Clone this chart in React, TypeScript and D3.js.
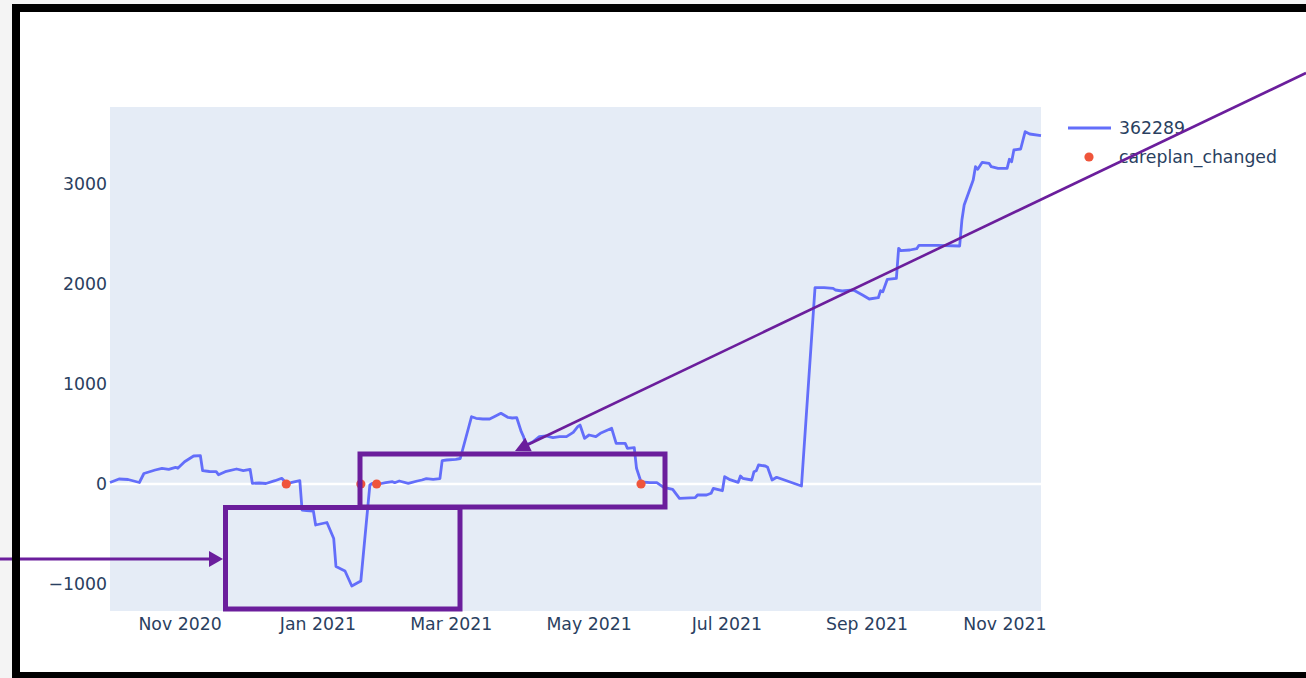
import * as d3 from "d3";

// series "362289"
const lineDates = [
  "2020-10-01", "2020-10-05", "2020-10-09", "2020-10-14", "2020-10-16", "2020-10-21",
  "2020-10-24", "2020-10-27", "2020-10-30", "2020-10-31", "2020-11-03", "2020-11-07",
  "2020-11-10", "2020-11-11", "2020-11-14", "2020-11-17", "2020-11-18", "2020-11-21",
  "2020-11-26", "2020-11-29", "2020-12-02", "2020-12-03", "2020-12-06", "2020-12-09",
  "2020-12-13", "2020-12-16", "2020-12-18", "2020-12-20", "2020-12-24", "2020-12-25",
  "2020-12-27", "2020-12-30", "2020-12-31", "2021-01-03", "2021-01-05", "2021-01-08",
  "2021-01-09", "2021-01-13", "2021-01-16", "2021-01-20", "2021-01-24", "2021-01-25",
  "2021-01-28", "2021-01-31", "2021-02-03", "2021-02-04", "2021-02-06", "2021-02-10",
  "2021-02-14", "2021-02-16", "2021-02-18", "2021-02-21", "2021-02-24", "2021-02-25",
  "2021-02-27", "2021-03-03", "2021-03-05", "2021-03-09", "2021-03-10", "2021-03-12",
  "2021-03-15", "2021-03-18", "2021-03-20", "2021-03-23", "2021-03-26", "2021-03-28",
  "2021-03-30", "2021-04-01", "2021-04-02", "2021-04-03", "2021-04-06", "2021-04-09",
  "2021-04-12", "2021-04-15", "2021-04-18", "2021-04-21", "2021-04-24", "2021-04-26",
  "2021-04-27", "2021-04-29", "2021-05-01", "2021-05-04", "2021-05-06", "2021-05-11",
  "2021-05-13", "2021-05-17", "2021-05-18", "2021-05-21", "2021-05-22", "2021-05-24",
  "2021-05-28", "2021-05-31", "2021-06-03", "2021-06-07", "2021-06-10", "2021-06-17",
  "2021-06-18", "2021-06-22", "2021-06-24", "2021-06-25", "2021-06-29", "2021-06-30",
  "2021-07-02", "2021-07-06", "2021-07-07", "2021-07-08", "2021-07-12", "2021-07-13",
  "2021-07-14", "2021-07-15", "2021-07-18", "2021-07-19", "2021-07-21", "2021-07-23",
  "2021-08-03", "2021-08-09", "2021-08-13", "2021-08-17", "2021-08-18", "2021-08-21",
  "2021-08-26", "2021-08-30", "2021-09-02", "2021-09-06", "2021-09-07", "2021-09-08",
  "2021-09-10", "2021-09-14", "2021-09-15", "2021-09-16", "2021-09-20", "2021-09-23",
  "2021-09-24", "2021-10-02", "2021-10-12", "2021-10-13", "2021-10-14", "2021-10-18",
  "2021-10-19", "2021-10-20", "2021-10-22", "2021-10-25", "2021-10-26", "2021-10-29",
  "2021-11-02", "2021-11-03", "2021-11-04", "2021-11-05", "2021-11-08", "2021-11-10",
  "2021-11-12", "2021-11-17",
];

const lineValues = [
  15, 50, 45, 15, 105, 140,
  157, 147, 167, 157, 223, 280,
  283, 133, 125, 123, 93, 123,
  150, 133, 147, 7, 10, 5,
  33, 57, 10, 13, 33, -260,
  -265, -270, -410, -395, -385, -545,
  -825, -870, -1020, -970, -10, 5,
  0, 13, 23, 13, 30, 7,
  30, 40, 53, 47, 53, 233,
  240, 247, 255, 590, 673, 657,
  650, 650, 673, 707, 667, 660,
  663, 523, 473, 390, 420, 473,
  480, 463, 473, 473, 517, 573,
  590, 457, 490, 473, 507, 557,
  407, 407, 357, 363, 157, 20,
  13, 13, -33, -53, -143, -137,
  -110, -110, -93, -43, -67, 73,
  47, 17, 80, 57, 40, 123,
  133, 190, 180, 167, 40, 67,
  -20, 1963, 1963, 1957, 1940, 1930,
  1940, 1890, 1850, 1863, 1933, 1923,
  2047, 2057, 2357, 2333, 2340, 2353,
  2387, 2387, 2380, 2640, 2790, 3040,
  3173, 3147, 3217, 3207, 3173, 3157,
  3157, 3247, 3223, 3340, 3350, 3523,
  3500, 3483,
];

// series "careplan_changed"
const careplanDates = ["2020-12-18", "2021-01-20", "2021-01-27", "2021-05-24"];
const careplanValues = [0, 0, 0, 0];

const xTickDates = ["2020-11-01", "2021-01-01", "2021-03-01", "2021-05-01", "2021-07-01", "2021-09-01", "2021-11-01"];
const yTicks = [-1000, 0, 1000, 2000, 3000];
const legendLabels = ["362289", "careplan_changed"];

const parse = d3.timeParse("%Y-%m-%d");

const W = 1306;
const H = 678;
const plot = { left: 110, right: 1041, top: 107, bottom: 611 };
const FONT = "'DejaVu Sans', Verdana, sans-serif";
const FS = 17.3;
const TEXT = "#2a3f5f";
const PURPLE = "#6b1e9c";

export default function App() {
  const x = d3
    .scaleTime()
    .domain([parse("2020-10-01") as Date, parse("2021-11-17") as Date])
    .range([plot.left, plot.right]);
  const y = d3.scaleLinear().domain([-1270, 3770]).range([plot.bottom, plot.top]);

  const points = lineDates.map((d, i) => ({ date: parse(d) as Date, value: lineValues[i] }));
  const markers = careplanDates.map((d, i) => ({ date: parse(d) as Date, value: careplanValues[i] }));

  const line = d3
    .line<{ date: Date; value: number }>()
    .x((d) => x(d.date))
    .y((d) => y(d.value));

  const fmt = d3.timeFormat("%b %Y");

  // triangular arrow head pointing at (tipX, tipY)
  const head = (tipX: number, tipY: number, fromX: number, fromY: number, len: number, half: number) => {
    const dx = fromX - tipX;
    const dy = fromY - tipY;
    const n = Math.hypot(dx, dy);
    const ux = dx / n;
    const uy = dy / n;
    const bx = tipX + ux * len;
    const by = tipY + uy * len;
    return `M${tipX},${tipY}L${bx - uy * half},${by + ux * half}L${bx + uy * half},${by - ux * half}Z`;
  };

  return (
    <svg
      width={W}
      height={H}
      style={{ position: "absolute", left: 0, top: 0 }}
      fontFamily={FONT}
    >
      <rect x={0} y={0} width={W} height={H} fill="#f4f4f4" />
      <rect x={12} y={4} width={W} height={H} fill="#000" />
      <rect x={20} y={12} width={W} height={660} fill="#fff" />

      <rect
        x={plot.left}
        y={plot.top}
        width={plot.right - plot.left}
        height={plot.bottom - plot.top}
        fill="#E5ECF6"
      />
      <line x1={plot.left} x2={plot.right} y1={y(0)} y2={y(0)} stroke="#fff" strokeWidth={2.4} />

      {yTicks.map((t) => (
        <text key={t} x={107} y={y(t)} dy="0.35em" textAnchor="end" fontSize={FS} fill={TEXT}>
          {t < 0 ? "\u2212" + Math.abs(t) : String(t)}
        </text>
      ))}
      {xTickDates.map((d) => {
        const dt = parse(d) as Date;
        return (
          <text key={d} x={x(dt)} y={630} textAnchor="middle" fontSize={FS} fill={TEXT}>
            {fmt(dt)}
          </text>
        );
      })}

      <path d={line(points) || ""} fill="none" stroke="#636EFA" strokeWidth={2.8} strokeLinejoin="round" />
      {markers.map((m, i) => (
        <circle key={i} cx={x(m.date)} cy={y(m.value)} r={4.6} fill="#EF553B" />
      ))}

      {/* legend */}
      <line x1={1068} x2={1111} y1={128} y2={128} stroke="#636EFA" strokeWidth={2.8} />
      <text x={1119} y={128} dy="0.35em" fontSize={FS} fill={TEXT}>
        {legendLabels[0]}
      </text>
      <circle cx={1089} cy={157} r={4.6} fill="#EF553B" />
      <text x={1119} y={157} dy="0.35em" fontSize={FS} fill={TEXT}>
        {legendLabels[1]}
      </text>

      {/* annotations */}
      <rect x={225.5} y={507.5} width={234.5} height={101.5} fill="none" stroke={PURPLE} strokeWidth={5} />
      <rect x={360} y={454} width={305} height={53} fill="none" stroke={PURPLE} strokeWidth={5} />
      <line x1={0} y1={559} x2={212} y2={559} stroke={PURPLE} strokeWidth={3} />
      <path d={head(223, 559, 0, 559, 14, 8)} fill={PURPLE} />
      <line x1={1306} y1={73} x2={525} y2={446} stroke={PURPLE} strokeWidth={2.6} />
      <path d={head(515, 451, 1306, 73, 15, 7.5)} fill={PURPLE} />

      <rect x={12} y={4} width={8} height={H} fill="#000" />
    </svg>
  );
}
